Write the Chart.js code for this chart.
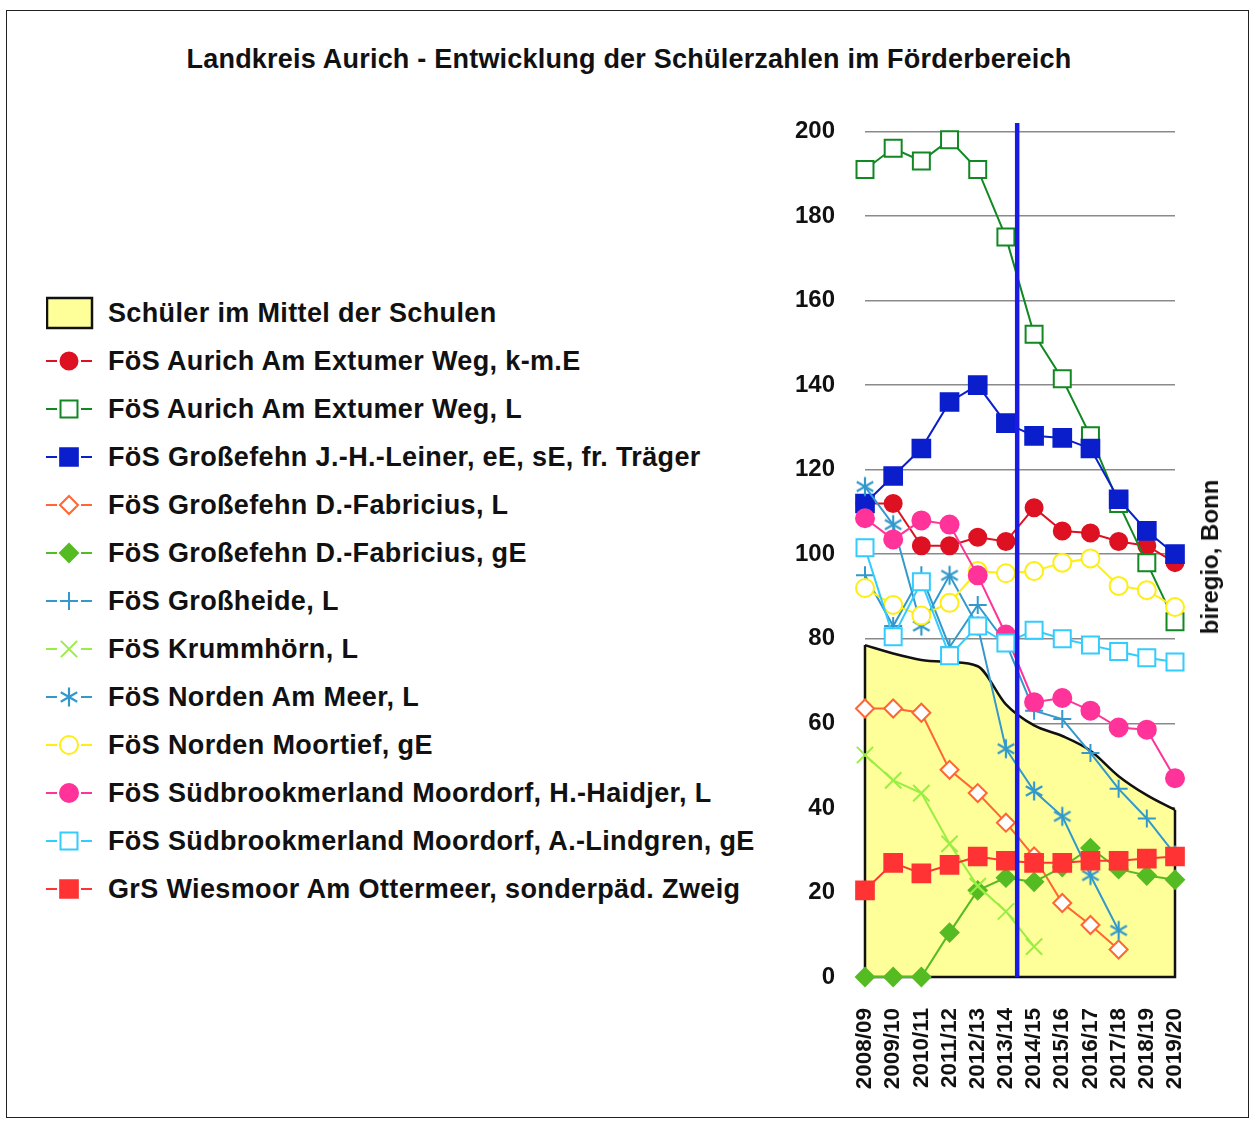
<!DOCTYPE html>
<html>
<head>
<meta charset="utf-8">
<script src="https://cdn.jsdelivr.net/npm/chart.js@4.4.0/dist/chart.umd.min.js"></script>
<style>
  body { margin: 0; background: #fff; font-family: "Liberation Sans", Arial, sans-serif; }
  #frame { position: absolute; left: 6px; top: 10px; width: 1241px; height: 1106px; border: 1.5px solid #222; }
  #title { position: absolute; left: 0; top: 44px; width: 1258px; text-align: center; font-weight: bold; font-size: 27px; letter-spacing: 0.22px; color: #111; }
  .row { position: absolute; left: 46px; height: 40px; }
  .row canvas { position: absolute; left: 0; top: 0; }
  .row span { position: absolute; left: 62px; top: 0; line-height: 40px; font-weight: bold; font-size: 27px; letter-spacing: 0.36px; color: #111; white-space: nowrap; }
  #wrap { position: absolute; left: 780px; top: 87px; width: 445px; height: 1010px; }
  #credit { position: absolute; left: 1210px; top: 557px; transform: translate(-50%, -50%) rotate(-90deg); font-weight: bold; font-size: 24px; color: #111; white-space: nowrap; }
</style>
</head>
<body>
<div id="frame"></div>
<div id="title">Landkreis Aurich - Entwicklung der Schülerzahlen im Förderbereich</div>
<div id="legend"></div>
<div id="wrap"><canvas id="chart" width="445" height="1010"></canvas></div>
<div id="credit">biregio, Bonn</div>

<script>
// === data ===
const years = ['2008/09', '2009/10', '2010/11', '2011/12', '2012/13', '2013/14',
               '2014/15', '2015/16', '2016/17', '2017/18', '2018/19', '2019/20'];

const avgSchool     = [78.5, 76.5, 75, 74.5, 73.5, 64.5, 59.5, 57, 53.5, 47.5, 43, 39.5];
const aurichKmE     = [112, 112, 102, 102, 104, 103, 111, 105.5, 105, 103, 102, 98];
const aurichL       = [191, 196, 193, 198, 191, 175, 152, 141.5, 128, 112, 98, 84];
const grossefehnJHL = [112, 118.5, 125, 136, 140, 131, 128, 127.5, 125, 113, 105.5, 100];
const grossefehnDFL = [63.5, 63.5, 62.5, 49, 43.5, 36.5, 28.5, 17.5, 12.3, 6.5, null, null];
const grossefehnDFgE = [0, 0, 0, 10.5, 20.5, 23.5, 22.5, 26, 30.5, 25.5, 24, 23];
const grossheideL   = [95, 83, 95, 78, 88, 79, 63, 61, 53, 44.5, 37.5, 29];
const krummhoernL   = [52.5, 46.5, 43.5, 31.5, 21.5, 15.5, 7.2, null, null, null, null, null];
const nordenMeerL   = [116, 107, 83, 95, 83, 54, 44, 38, 24, 11, null, null];
const nordenMoorgE  = [92, 88, 85.5, 88.5, 96, 95.5, 96, 98, 99, 92.5, 91.5, 87.5];
const suedbrookHH   = [108.5, 103.5, 108, 107, 95, 81, 65, 66, 63, 59, 58.5, 47];
const suedbrookAL   = [101.5, 80.5, 93.5, 76, 83, 79, 82, 80, 78.5, 77, 75.5, 74.5];
const wiesmoorGrS   = [20.5, 27, 24.5, 26.5, 28.5, 27.5, 27, 27, 27.5, 27.5, 28, 28.5];

const yTicks = { min: 0, max: 200, step: 20 };
const schoolReformAt = 5.4;   // the blue line sits between 2013/14 and 2014/15

// six-armed asterisk like in the original, chart.js only has an 8-armed star
function makeAsterisk(color) {
  const c = document.createElement('canvas');
  c.width = 22; c.height = 22;
  const g = c.getContext('2d');
  g.strokeStyle = color;
  g.lineWidth = 2.2;
  g.beginPath();
  [90, 30, 150].forEach(deg => {
    const a = deg * Math.PI / 180, r = 9.5;
    g.moveTo(11 - Math.cos(a) * r, 11 - Math.sin(a) * r);
    g.lineTo(11 + Math.cos(a) * r, 11 + Math.sin(a) * r);
  });
  g.stroke();
  return c;
}

// label, values, colour, point style, filled marker?, radius
const seriesList = [
  ['FöS Aurich Am Extumer Weg, k-m.E', aurichKmE, '#dd1122', 'circle', true, 8.5],
  ['FöS Aurich Am Extumer Weg, L', aurichL, '#118822', 'rect', false, 12],
  ['FöS Großefehn J.-H.-Leiner, eE, sE, fr. Träger', grossefehnJHL, '#0a1ecc', 'rect', true, 12.5],
  ['FöS Großefehn D.-Fabricius, L', grossefehnDFL, '#ff6633', 'rectRot', false, 9],
  ['FöS Großefehn D.-Fabricius, gE', grossefehnDFgE, '#55bb22', 'rectRot', true, 9],
  ['FöS Großheide, L', grossheideL, '#3399cc', 'cross', false, 9],
  ['FöS Krummhörn, L', krummhoernL, '#99ee44', 'crossRot', false, 11.5],
  ['FöS Norden Am Meer, L', nordenMeerL, '#3399cc', makeAsterisk('#3399cc'), false, 9.5],
  ['FöS Norden Moortief, gE', nordenMoorgE, '#ffee11', 'circle', false, 9],
  ['FöS Südbrookmerland Moordorf, H.-Haidjer, L', suedbrookHH, '#ff3399', 'circle', true, 9],
  ['FöS Südbrookmerland Moordorf, A.-Lindgren, gE', suedbrookAL, '#33ccff', 'rect', false, 12],
  ['GrS Wiesmoor Am Ottermeer, sonderpäd. Zweig', wiesmoorGrS, '#ff3333', 'rect', true, 12.5]
];

const FONT = '"Liberation Sans", Arial, sans-serif';

// === legend (html, markers drawn with chart.js helper) ===
function buildLegend() {
  const legend = document.getElementById('legend');
  const rowTop = 313, rowGap = 48;

  const first = document.createElement('div');
  first.className = 'row';
  first.style.top = (rowTop - 20) + 'px';
  first.innerHTML = '<canvas width="48" height="40"></canvas><span>Schüler im Mittel der Schulen</span>';
  legend.appendChild(first);
  const c0 = first.querySelector('canvas').getContext('2d');
  c0.fillStyle = '#ffff99';
  c0.strokeStyle = '#111';
  c0.lineWidth = 2.5;
  c0.fillRect(1, 5, 45, 30);
  c0.strokeRect(1, 5, 45, 30);

  seriesList.forEach((s, i) => {
    const [label, , color, style, filled, radius] = s;
    const row = document.createElement('div');
    row.className = 'row';
    row.style.top = (rowTop + (i + 1) * rowGap - 20) + 'px';
    row.innerHTML = '<canvas width="48" height="40"></canvas><span></span>';
    row.querySelector('span').textContent = label;
    legend.appendChild(row);

    const ctx = row.querySelector('canvas').getContext('2d');
    ctx.strokeStyle = color;
    ctx.lineWidth = 2;
    ctx.beginPath();
    ctx.moveTo(0, 20); ctx.lineTo(11, 20);
    ctx.moveTo(35, 20); ctx.lineTo(46, 20);
    ctx.stroke();
    ctx.fillStyle = filled ? color : '#fff';
    ctx.lineWidth = 2;
    if (Chart.helpers && Chart.helpers.drawPoint) {
      Chart.helpers.drawPoint(ctx, { pointStyle: style, radius: radius, borderWidth: 2, rotation: 0 }, 23, 20);
    } else {
      ctx.beginPath(); ctx.arc(23, 20, 8, 0, Math.PI * 2); ctx.fill(); ctx.stroke();
    }
  });
}

// === plugins ===
const areaOutline = {
  id: 'areaOutline',
  afterDatasetDraw(chart, args) {
    if (args.index !== 0) return;
    const pts = args.meta.data;
    const first = pts[0], last = pts[pts.length - 1];
    const y0 = chart.scales.y.getPixelForValue(0);
    const ctx = chart.ctx;
    ctx.save();
    ctx.strokeStyle = '#111';
    ctx.lineWidth = 2.5;
    ctx.beginPath();
    ctx.moveTo(first.x, first.y);
    ctx.lineTo(first.x, y0);
    ctx.lineTo(last.x, y0);
    ctx.lineTo(last.x, last.y);
    ctx.stroke();
    ctx.restore();
  }
};

const reformLine = {
  id: 'reformLine',
  afterDatasetsDraw(chart) {
    const xs = chart.scales.x, ys = chart.scales.y;
    const i = Math.floor(schoolReformAt);
    const a = xs.getPixelForValue(i), b = xs.getPixelForValue(i + 1);
    const x = a + (b - a) * (schoolReformAt - i);
    const ctx = chart.ctx;
    ctx.save();
    ctx.strokeStyle = '#1a1ae6';
    ctx.lineWidth = 4.5;
    ctx.beginPath();
    ctx.moveTo(x, ys.getPixelForValue(202));
    ctx.lineTo(x, ys.getPixelForValue(0));
    ctx.stroke();
    ctx.restore();
  }
};

// === chart ===
function renderChart() {
  const n = seriesList.length;
  const datasets = [{
    label: 'Schüler im Mittel der Schulen',
    data: avgSchool,
    fill: 'origin',
    backgroundColor: '#ffff99',
    borderColor: '#111',
    borderWidth: 2.5,
    pointRadius: 0,
    cubicInterpolationMode: 'monotone',
    order: n + 5
  }];

  seriesList.forEach(([label, data, color, style, filled, radius], i) => {
    datasets.push({
      label,
      data,
      borderColor: color,
      backgroundColor: color,
      borderWidth: 2,
      pointStyle: style,
      pointRadius: radius,
      pointBorderWidth: 2,
      pointBorderColor: color,
      pointBackgroundColor: filled ? color : '#fff',
      fill: false,
      clip: false,
      order: n - i
    });
  });

  new Chart(document.getElementById('chart'), {
    type: 'line',
    data: { labels: years, datasets },
    options: {
      responsive: false,
      animation: false,
      layout: { padding: { top: 18, right: 34, left: 0, bottom: 0 } },
      plugins: { legend: { display: false }, tooltip: { enabled: false } },
      scales: {
        x: {
          offset: false,
          grid: { display: false },
          border: { display: false },
          ticks: {
            autoSkip: false, maxRotation: 90, minRotation: 90, padding: 23,
            color: '#111', font: { family: FONT, size: 22.5, weight: 'bold' }
          },
          afterFit(s) { s.height = 120; }
        },
        y: {
          min: yTicks.min, max: yTicks.max,
          ticks: {
            stepSize: yTicks.step, padding: 30,
            color: '#111', font: { family: FONT, size: 24, weight: 'bold' }
          },
          grid: { color: '#8a8a8a', lineWidth: 1.5, drawTicks: false },
          border: { display: false },
          afterFit(s) { s.width = 85; }
        }
      }
    },
    plugins: [areaOutline, reformLine]
  });
}

buildLegend();
renderChart();
</script>
</body>
</html>
